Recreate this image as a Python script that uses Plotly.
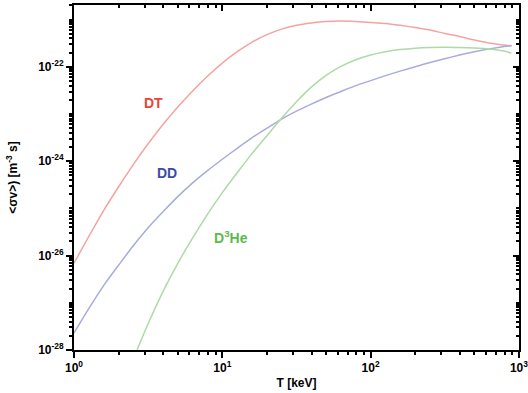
import plotly.graph_objects as go

# Data (T in keV, <sigma v> in m^3/s)
T_GRID = [1.0, 1.26, 1.58, 2.0, 2.51, 3.16, 3.98, 5.01, 6.31, 7.94, 10.0, 12.6, 15.8, 20.0, 25.1, 31.6,
          39.8, 50.1, 63.1, 79.4, 100.0, 126.0, 158.0, 200.0, 251.0, 316.0, 398.0, 501.0, 631.0, 794.0, 891.0]

S_DT = [6.9e-27, 2.57e-26, 8.9e-26, 2.88e-25, 8.5e-25, 2.34e-24, 6.0e-24, 1.41e-23, 3.09e-23, 6.3e-23, 1.20e-22,
        2.09e-22, 3.31e-22, 4.8e-22, 6.3e-22, 7.6e-22, 8.5e-22, 9.1e-22, 9.3e-22, 9.1e-22, 8.7e-22, 8.3e-22,
        7.6e-22, 6.8e-22, 6.0e-22, 5.1e-22, 4.4e-22, 3.7e-22, 3.2e-22, 2.9e-22, 2.75e-22]

S_DD = [2.29e-28, 7.6e-28, 2.29e-27, 6.3e-27, 1.62e-26, 3.9e-26, 8.5e-26, 1.78e-25, 3.47e-25, 6.3e-25, 1.1e-24,
        1.88e-24, 3.12e-24, 5.0e-24, 7.8e-24, 1.15e-23, 1.62e-23, 2.24e-23, 3.0e-23, 4.0e-23, 5.1e-23, 6.5e-23,
        8.1e-23, 1.0e-22, 1.23e-22, 1.48e-22, 1.78e-22, 2.09e-22, 2.4e-22, 2.69e-22, 2.82e-22]

T_DHE = [2.66, 3.16, 3.98, 5.01, 6.31, 7.94, 10.0, 12.6, 15.8, 20.0, 25.1, 31.6, 39.8, 50.1, 63.1, 79.4,
         100.0, 126.0, 158.0, 200.0, 251.0, 316.0, 398.0, 501.0, 631.0, 794.0, 891.0]
S_DHE = [1.0e-28, 3.59e-28, 1.72e-27, 6.84e-27, 2.37e-26, 7.5e-26, 2.16e-25, 5.69e-25, 1.43e-24, 3.47e-24, 8.1e-24,
         1.82e-23, 3.72e-23, 6.6e-23, 1.02e-22, 1.41e-22, 1.78e-22, 2.09e-22, 2.32e-22, 2.48e-22, 2.57e-22,
         2.60e-22, 2.57e-22, 2.51e-22, 2.40e-22, 2.16e-22, 1.95e-22]

x_major = [1, 10, 100, 1000]
x_major_text = ["10<sup>0</sup>", "10<sup>1</sup>", "10<sup>2</sup>", "10<sup>3</sup>"]
y_major = [1e-28, 1e-26, 1e-24, 1e-22]
y_major_text = ["10<sup>-28</sup>", "10<sup>-26</sup>", "10<sup>-24</sup>", "10<sup>-22</sup>"]

x_minor = [m * 10 ** k for k in range(0, 3) for m in range(2, 10)]
y_minor = [m * 10.0 ** k for k in range(-28, -20) for m in range(1, 10)
           if not (m == 1 and k % 2 == 0)]

FONT = "Liberation Sans, Arial, sans-serif"

line_kw = dict(width=1.5, shape="spline", smoothing=0.6)
fig = go.Figure()
fig.add_trace(go.Scatter(x=T_GRID, y=S_DT, mode="lines", line=dict(color="#f5a3a0", **line_kw), hoverinfo="skip"))
fig.add_trace(go.Scatter(x=T_GRID, y=S_DD, mode="lines", line=dict(color="#a7acdc", **line_kw), hoverinfo="skip"))
fig.add_trace(go.Scatter(x=T_DHE, y=S_DHE, mode="lines", line=dict(color="#acdba4", **line_kw), hoverinfo="skip"))
# invisible trace for the mirrored axes
fig.add_trace(go.Scatter(x=[1, 1000], y=[1e-28, 1e-21], mode="markers", marker=dict(opacity=0), xaxis="x2", yaxis="y2", hoverinfo="skip"))

common_axis = dict(type="log", showgrid=False, zeroline=False, showline=True, linecolor="black", linewidth=2,
                   tickcolor="black", tickwidth=1.5, tickmode="array")
XR = [0, 3.0005]
YR = [-28, -20.69]

fig.update_layout(
    width=528, height=393,
    margin=dict(l=74, r=9, t=5, b=43, autoexpand=False),
    paper_bgcolor="white", plot_bgcolor="white",
    showlegend=False,
    font=dict(family=FONT, color="black", size=12, weight="bold"),
    xaxis=dict(**common_axis, range=XR, tickvals=x_major, ticktext=x_major_text, ticks="outside", ticklen=6,
               ticklabeloverflow="allow",
               minor=dict(tickmode="array", tickvals=x_minor, ticks="outside", ticklen=3, tickcolor="black", tickwidth=1.5),
               tickfont=dict(size=12, family=FONT, weight="bold"),
               title=dict(text="T [keV]", font=dict(size=12, family=FONT, weight="bold"), standoff=4)),
    yaxis=dict(**common_axis, range=YR, tickvals=y_major, ticktext=y_major_text, ticks="outside", ticklen=6,
               ticklabeloverflow="allow",
               minor=dict(tickmode="array", tickvals=y_minor, ticks="outside", ticklen=3, tickcolor="black", tickwidth=1.5),
               tickfont=dict(size=12, family=FONT, weight="bold"),
               title=dict(text="&lt;σv&gt;) [m<sup>-3</sup> s]", font=dict(size=12, family=FONT, weight="bold"), standoff=18)),
    xaxis2=dict(**common_axis, range=XR, overlaying="x", side="top", anchor="y2", tickvals=x_major, ticks="inside", ticklen=6,
                showticklabels=False,
                minor=dict(tickmode="array", tickvals=x_minor, ticks="inside", ticklen=3, tickcolor="black", tickwidth=1.5)),
    yaxis2=dict(**common_axis, range=YR, overlaying="y", side="right", anchor="x2", tickvals=y_major, ticks="inside", ticklen=6,
                showticklabels=False,
                minor=dict(tickmode="array", tickvals=y_minor, ticks="inside", ticklen=3, tickcolor="black", tickwidth=1.5)),
)

fig.add_annotation(x=0.533, y=-22.77, xref="x", yref="y", text="DT", showarrow=False,
                   font=dict(size=14, color="#e8453a", family=FONT, weight="bold"))
fig.add_annotation(x=0.627, y=-24.25, xref="x", yref="y", text="DD", showarrow=False,
                   font=dict(size=14, color="#3a4cab", family=FONT, weight="bold"))
fig.add_annotation(x=1.06, y=-25.6, xref="x", yref="y", text="D<sup>3</sup>He", showarrow=False,
                   font=dict(size=14, color="#5cba4c", family=FONT, weight="bold"))

fig.write_html("out.html")
